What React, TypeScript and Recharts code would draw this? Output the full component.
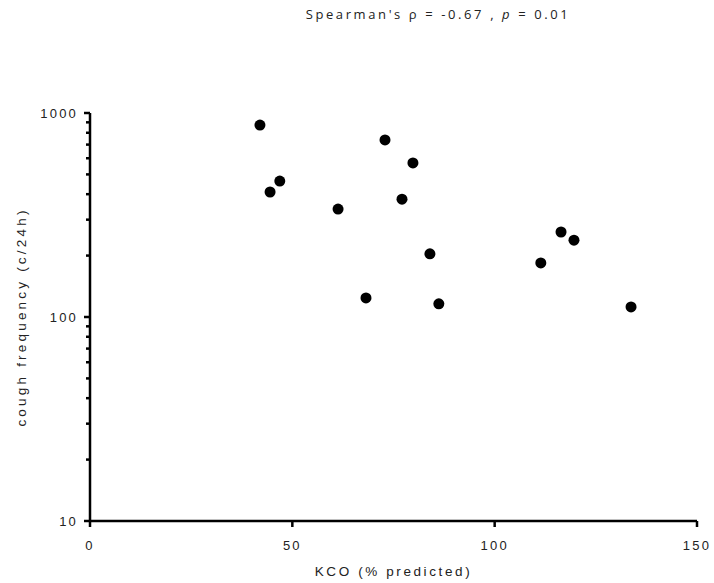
import { ScatterChart, Scatter, XAxis, YAxis, Label } from 'recharts'

// KCO (% predicted) vs cough frequency (c/24h)
const kco = [42.0, 44.5, 46.9, 61.3, 68.2, 72.9, 77.1, 79.8, 84.0, 86.2, 111.4, 116.4, 119.6, 133.7]
const cough = [873, 410, 464, 338, 124, 738, 378, 569, 204, 116, 184, 261, 238, 112]

const xTicks = [0, 50, 100, 150]
const yMajor = [10, 100, 1000]
const yTicks = [10, 20, 30, 40, 50, 60, 70, 80, 90, 100, 200, 300, 400, 500, 600, 700, 800, 900, 1000]

const data = kco.map((k, i) => ({ kco: k, cough: cough[i] }))

const FONT = '"Liberation Sans", Arial, sans-serif'

function YTick(props: any) {
  const { x, y, payload } = props
  const major = yMajor.includes(payload.value)
  return (
    <g>
      <line x1={x - (major ? 6 : 4)} x2={x} y1={y} y2={y} stroke="#000" strokeWidth={2.5} />
      {major && (
        <text x={x - 12} y={y} dy={4.5} textAnchor="end" fontSize={13} fill="#222" fontFamily={FONT} style={{ letterSpacing: 2.2 }}>
          {payload.value}
        </text>
      )}
    </g>
  )
}

function Dot(props: any) {
  return <circle cx={props.cx} cy={props.cy} r={5.5} fill="#000" />
}

export default function App() {
  return (
    <div style={{ position: 'absolute', left: 0, top: 0, width: 714, height: 583, background: '#fff' }}>
      <div
        style={{
          position: 'absolute',
          left: 0,
          width: 876,
          top: 5,
          textAlign: 'center',
          fontFamily: '"Open Sans", sans-serif',
          fontSize: 13,
          letterSpacing: 2.6,
          color: '#222',
        }}
      >
        Spearman's ρ = -0.67 , <i>p</i> = 0.01
      </div>
      <ScatterChart width={714} height={583} margin={{ top: 113, right: 17, bottom: 0, left: 0 }}>
        <XAxis
          type="number"
          dataKey="kco"
          domain={[0, 150]}
          ticks={xTicks}
          interval={0}
          height={62}
          axisLine={{ stroke: '#000', strokeWidth: 2.5 }}
          tickLine={{ stroke: '#000', strokeWidth: 2.5 }}
          tickSize={6}
          tickMargin={14}
          tick={{ fontSize: 13, fill: '#222', fontFamily: FONT, style: { letterSpacing: 2.2 } }}
        >
          <Label
            content={({ viewBox }: any) => (
              <text
                x={viewBox.x + viewBox.width / 2}
                y={viewBox.y + 55}
                textAnchor="middle"
                fontSize={13.5}
                fill="#222"
                fontFamily={FONT}
                style={{ letterSpacing: 2.6 }}
              >
                KCO (% predicted)
              </text>
            )}
          />
        </XAxis>
        <YAxis
          type="number"
          dataKey="cough"
          scale="log"
          domain={[10, 1000]}
          ticks={yTicks}
          interval={0}
          width={90}
          allowDataOverflow
          axisLine={{ stroke: '#000', strokeWidth: 2.5 }}
          tickLine={false}
          tickSize={0}
          tickMargin={0}
          tick={<YTick />}
        >
          <Label
            content={({ viewBox }: any) => (
              <text
                x={26}
                y={viewBox.y + viewBox.height / 2}
                textAnchor="middle"
                fontSize={13.5}
                fill="#222"
                fontFamily={FONT}
                transform={`rotate(-90, 26, ${viewBox.y + viewBox.height / 2})`}
                style={{ letterSpacing: 3.2 }}
              >
                cough frequency (c/24h)
              </text>
            )}
          />
        </YAxis>
        <Scatter data={data} shape={<Dot />} isAnimationActive={false} />
      </ScatterChart>
    </div>
  )
}
